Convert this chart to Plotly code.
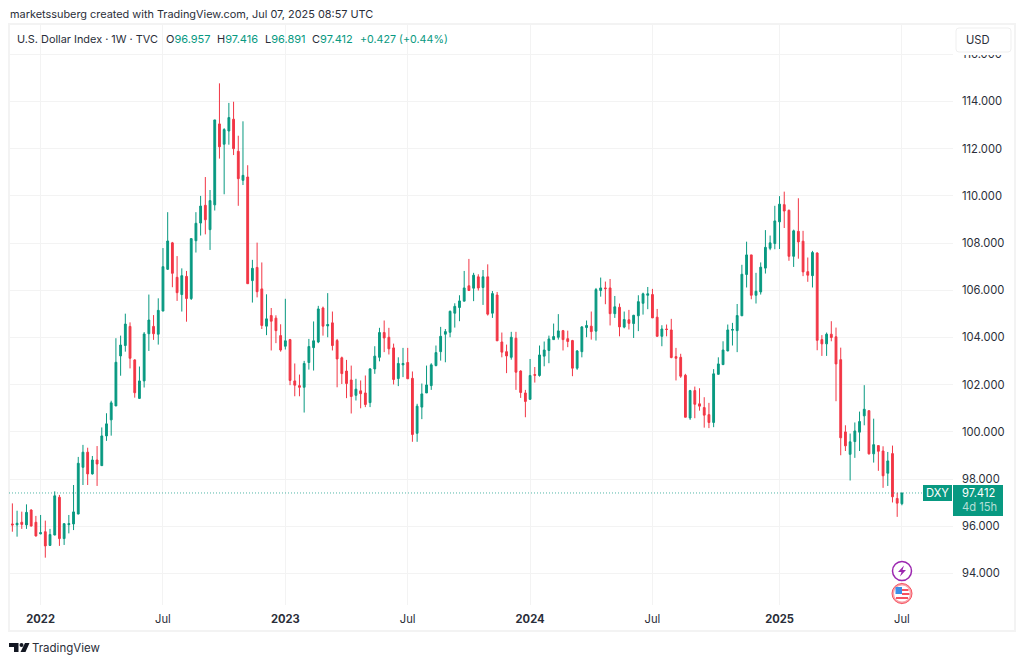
import pandas as pd
import plotly.graph_objects as go

# weekly DXY candles, first one is the week of 2021-11-22
opens = [
    96.10, 96.06, 96.17, 96.06, 96.69, 96.17, 95.68, 95.77, 95.19, 95.63,
    97.23, 95.48, 96.07, 96.10, 96.52, 98.50, 99.14, 98.22, 98.81, 98.57,
    99.83, 100.51, 101.10, 103.22, 103.66, 104.47, 103.05, 101.42, 102.16, 104.16,
    104.47, 104.14, 105.12, 106.89, 108.01, 106.55, 105.82, 106.59, 105.65, 108.10,
    108.85, 109.60, 108.57, 109.62, 113.05, 112.19, 112.75, 113.25, 111.89, 110.66,
    110.80, 106.41, 106.97, 106.06, 104.48, 104.93, 104.82, 104.08, 103.63, 103.91,
    102.16, 101.96, 101.89, 102.94, 103.57, 103.81, 105.25, 104.49, 104.62, 103.87,
    103.14, 102.58, 102.20, 101.55, 101.74, 101.65, 101.24, 102.67, 103.16, 104.21,
    104.01, 103.56, 102.26, 102.84, 102.94, 102.27, 99.94, 101.05, 101.65, 101.96,
    102.81, 103.40, 104.14, 104.22, 105.03, 105.27, 105.54, 106.19, 106.09, 106.57,
    106.12, 106.57, 105.03, 105.80, 103.81, 103.40, 103.16, 103.97, 102.58, 101.65,
    101.38, 102.43, 102.39, 103.21, 103.45, 103.91, 104.01, 104.29, 103.95, 103.87,
    102.70, 103.40, 104.42, 104.48, 104.27, 105.99, 106.10, 106.10, 105.01, 105.28,
    104.44, 104.75, 104.59, 104.92, 105.45, 105.79, 105.82, 104.86, 104.05, 104.36,
    104.32, 103.19, 103.16, 102.40, 100.59, 101.75, 101.19, 101.03, 100.73, 100.40,
    102.44, 102.85, 103.43, 104.31, 104.29, 104.92, 106.67, 107.50, 105.79, 105.93,
    106.94, 107.78, 107.98, 108.90, 109.63, 109.39, 107.44, 108.50, 108.08, 106.79,
    106.62, 107.58, 103.91, 103.73, 104.14, 104.03, 103.06, 100.00, 99.05, 99.59,
    99.99, 100.68, 100.90, 99.07, 99.42, 99.19, 98.25, 99.08, 97.18, 96.957,
]
highs = [
    96.97, 96.66, 96.62, 96.93, 96.72, 96.44, 96.48, 96.24, 95.89, 97.48,
    97.33, 96.13, 96.48, 97.75, 98.94, 99.45, 99.33, 98.98, 99.40, 100.19,
    100.79, 101.32, 103.97, 104.08, 105.01, 104.64, 103.08, 102.77, 104.23, 105.82,
    104.95, 105.66, 107.79, 109.31, 108.05, 107.45, 106.93, 106.82, 108.19, 109.31,
    110.00, 110.80, 110.25, 113.22, 114.77, 112.87, 113.94, 113.99, 112.55, 113.16,
    111.30, 107.29, 108.02, 107.18, 105.83, 105.25, 104.94, 104.56, 105.64, 103.94,
    102.90, 102.43, 103.01, 103.94, 104.68, 105.34, 105.31, 105.88, 105.10, 103.94,
    103.19, 103.05, 102.81, 102.25, 102.18, 102.39, 102.70, 103.63, 104.41, 104.72,
    104.41, 103.74, 103.16, 103.56, 103.56, 102.56, 101.19, 102.05, 102.81, 102.91,
    103.66, 104.45, 104.36, 105.14, 105.45, 105.79, 106.82, 107.33, 106.74, 106.68,
    106.86, 107.10, 105.97, 105.93, 104.21, 103.70, 104.24, 104.24, 102.61, 101.78,
    103.09, 102.75, 103.66, 103.83, 104.08, 104.59, 104.99, 104.32, 104.29, 103.90,
    103.47, 104.48, 104.72, 105.10, 106.10, 106.54, 106.37, 106.48, 105.76, 105.44,
    105.10, 105.17, 104.96, 105.79, 105.90, 106.14, 106.06, 105.21, 104.52, 104.55,
    104.79, 103.56, 103.31, 102.46, 101.78, 101.92, 101.85, 101.47, 101.23, 102.66,
    103.16, 103.84, 104.55, 104.62, 105.42, 107.08, 108.06, 107.50, 106.74, 107.18,
    108.55, 108.32, 109.58, 109.99, 110.18, 109.42, 108.57, 109.90, 108.52, 107.39,
    107.67, 107.61, 104.10, 104.21, 104.69, 104.42, 103.57, 100.28, 99.93, 100.40,
    100.86, 101.98, 100.90, 100.56, 99.42, 99.39, 99.15, 99.42, 97.42, 97.416,
]
lows = [
    95.77, 95.56, 95.89, 95.89, 95.99, 95.57, 95.66, 94.67, 95.17, 95.62,
    95.17, 95.21, 95.70, 95.84, 96.51, 97.75, 97.75, 98.19, 97.71, 98.57,
    99.62, 99.84, 101.10, 102.38, 103.40, 102.69, 101.45, 101.40, 101.88, 103.43,
    103.90, 103.70, 105.12, 106.86, 106.13, 105.55, 105.10, 104.67, 105.59, 107.60,
    108.32, 108.37, 107.71, 109.38, 111.58, 110.07, 112.17, 111.73, 109.58, 110.46,
    106.28, 105.48, 105.70, 104.36, 104.10, 103.45, 103.76, 103.40, 103.49, 101.98,
    101.51, 101.51, 100.82, 102.64, 102.60, 103.76, 104.08, 104.01, 103.45, 101.89,
    102.03, 101.43, 100.78, 101.33, 101.00, 101.05, 101.05, 102.46, 102.99, 103.38,
    103.28, 102.01, 101.94, 102.32, 102.25, 99.58, 99.58, 100.54, 101.65, 101.78,
    102.78, 103.02, 102.95, 104.01, 104.42, 104.69, 105.54, 105.99, 105.54, 105.99,
    105.38, 104.93, 104.83, 103.86, 103.16, 102.49, 103.06, 101.78, 101.44, 100.62,
    101.37, 102.09, 102.34, 102.78, 102.91, 103.91, 103.91, 103.45, 103.59, 102.36,
    102.63, 103.16, 104.01, 103.91, 103.87, 105.73, 105.41, 104.51, 104.83, 104.05,
    104.39, 104.34, 103.98, 104.27, 104.97, 105.20, 104.83, 104.04, 103.63, 104.05,
    103.12, 102.18, 102.29, 100.62, 100.51, 100.58, 100.90, 100.18, 100.16, 100.20,
    102.43, 102.85, 103.42, 103.66, 103.38, 104.92, 106.12, 105.62, 105.44, 105.82,
    106.71, 107.70, 107.74, 107.75, 108.64, 107.25, 106.99, 107.34, 106.60, 106.36,
    106.12, 103.46, 103.22, 103.22, 103.84, 101.30, 99.01, 99.19, 97.94, 98.90,
    99.19, 100.28, 99.04, 98.70, 98.35, 97.63, 97.71, 97.01, 96.40, 96.891,
]
closes = [
    96.06, 96.13, 96.08, 96.59, 96.01, 95.59, 95.73, 95.17, 95.65, 97.29,
    95.48, 96.11, 96.11, 96.61, 98.67, 99.14, 98.22, 98.81, 98.64, 99.83,
    100.34, 101.23, 102.95, 103.68, 104.57, 103.12, 101.66, 102.16, 104.15, 104.74,
    104.16, 105.15, 107.00, 108.09, 106.72, 105.90, 106.62, 105.65, 108.19, 108.84,
    109.57, 108.99, 109.80, 113.22, 112.08, 112.81, 113.32, 112.00, 110.73, 110.87,
    106.28, 106.93, 105.94, 104.51, 104.79, 104.69, 104.29, 103.47, 103.86, 102.18,
    101.98, 101.89, 102.90, 103.62, 103.86, 105.21, 104.48, 104.55, 103.66, 103.09,
    102.47, 102.05, 101.50, 101.81, 101.62, 101.16, 102.67, 103.21, 104.21, 103.98,
    103.52, 102.22, 102.90, 102.90, 102.25, 99.89, 101.09, 101.61, 101.99, 102.84,
    103.36, 104.05, 104.25, 105.11, 105.32, 105.55, 106.10, 105.99, 106.64, 106.10,
    106.57, 104.99, 105.86, 103.86, 103.38, 103.22, 104.01, 102.53, 101.67, 101.29,
    102.39, 102.40, 103.26, 103.47, 103.94, 104.04, 104.28, 103.91, 103.83, 102.70,
    103.43, 104.45, 104.51, 104.25, 106.03, 106.10, 106.07, 105.01, 105.30, 104.45,
    104.76, 104.60, 104.94, 105.52, 105.85, 105.85, 104.83, 104.05, 104.36, 104.34,
    103.15, 103.12, 102.36, 100.62, 101.75, 101.17, 101.09, 100.71, 100.40, 102.46,
    102.88, 103.47, 104.32, 104.34, 104.93, 106.68, 107.50, 105.79, 105.96, 106.98,
    107.82, 108.01, 108.94, 109.65, 109.36, 107.44, 108.52, 108.05, 106.78, 106.64,
    107.60, 103.88, 103.73, 104.14, 104.00, 102.88, 99.75, 99.41, 99.58, 100.04,
    100.44, 100.96, 99.07, 99.46, 99.18, 98.14, 98.77, 97.25, 96.98, 97.412,
]
dates = pd.date_range("2021-11-22", periods=len(opens), freq="W-MON")

x_tick_dates = ["2022-01-03", "2022-07-04", "2023-01-02", "2023-07-03",
                "2024-01-01", "2024-07-01", "2025-01-06", "2025-07-07"]
x_tick_labels = ["<b>2022</b>", "Jul", "<b>2023</b>", "Jul", "<b>2024</b>", "Jul", "<b>2025</b>", "Jul"]
y_ticks = [94, 96, 98, 100, 102, 104, 106, 108, 110, 112, 114, 116]

GREEN = "#089981"
RED = "#F23645"
TEXT = "#2a2e39"
FONT = "Inter, Liberation Sans, sans-serif"

# plot box in page pixels
L, R, T, B = 9, 953, 24, 605


def px(x):
    return (x - L) / (R - L)


def py(y):
    return 1 - (y - T) / (B - T)


def rect(x0, y0, x1, y1, fill, line=None, width=0):
    return dict(type="rect", xref="paper", yref="paper", layer="above",
                x0=px(x0), x1=px(x1), y0=py(y0), y1=py(y1), fillcolor=fill,
                line=dict(color=line or fill, width=width))


def circle(cx, cy, r, fill, line, width):
    return dict(type="circle", xref="paper", yref="paper", layer="above",
                x0=px(cx - r), x1=px(cx + r), y0=py(cy - r), y1=py(cy + r),
                fillcolor=fill, line=dict(color=line, width=width))


def poly(points, fill):
    path = "M " + " L ".join(f"{px(a)} {py(b)}" for a, b in points) + " Z"
    return dict(type="path", xref="paper", yref="paper", layer="above", path=path,
                fillcolor=fill, line=dict(width=0))


def label(x, y, text, color=TEXT, size=11, anchor="left"):
    return dict(xref="paper", yref="paper", x=px(x), y=py(y), text=text, showarrow=False,
                xanchor=anchor, yanchor="middle", align="left", borderpad=0,
                font=dict(family=FONT, size=size, color=color))


fig = go.Figure(go.Candlestick(
    x=dates, open=opens, high=highs, low=lows, close=closes,
    increasing=dict(line=dict(color=GREEN, width=1), fillcolor=GREEN),
    decreasing=dict(line=dict(color=RED, width=1), fillcolor=RED),
    whiskerwidth=0,
    showlegend=False,
))

shapes = [
    # last price line
    dict(type="line", xref="paper", yref="y", x0=0, x1=px(923), y0=closes[-1], y1=closes[-1],
         line=dict(color="rgba(8,153,129,0.7)", width=1, dash="1px,2px"), layer="above"),
    # frame around the chart
    dict(type="rect", xref="paper", yref="paper", x0=px(9), x1=px(1015), y0=py(24), y1=py(631),
         line=dict(color="#f3f3f3", width=2), layer="below"),
    # price tags
    rect(923, 485, 952, 501, GREEN),
    rect(953, 485, 1003, 516, GREEN),
    # USD button, with the white patch that hides most of the 116 label
    rect(956, 50, 1011, 55, "white"),
    dict(type="path", xref="paper", yref="paper", layer="above",
         path=" ".join([
             f"M {px(959)} {py(28)} L {px(1008)} {py(28)}",
             f"Q {px(1011)} {py(28)} {px(1011)} {py(31)} L {px(1011)} {py(49)}",
             f"Q {px(1011)} {py(52)} {px(1008)} {py(52)} L {px(959)} {py(52)}",
             f"Q {px(956)} {py(52)} {px(956)} {py(49)} L {px(956)} {py(31)}",
             f"Q {px(956)} {py(28)} {px(959)} {py(28)} Z",
         ]),
         fillcolor="white", line=dict(color="#efefef", width=1)),
    # event icons
    circle(902, 571, 9.5, "white", "#9c27b0", 1.5),
    poly([(904, 565.5), (898, 572), (901.5, 572), (900, 576.5), (906, 570), (902.5, 570)], "#9c27b0"),
    circle(902, 593.5, 10, "#f7a4ab", "#f7525f", 1),
    circle(902, 593.5, 8, "white", "white", 0),
    rect(902, 589, 908.5, 591, "#f7525f"),
    rect(902, 593, 909.5, 595, "#f7525f"),
    rect(896, 597, 908, 599, "#f7525f"),
    rect(895.5, 587, 902, 594, "#3d8fe8"),
    # TradingView logo
    poly([(9, 643), (18.5, 643), (18.5, 652), (14, 652), (14, 647), (9, 647)], "#131722"),
    circle(21.5, 645, 2, "#131722", "#131722", 0),
    poly([(25, 643), (29.5, 643), (25.5, 652), (20.5, 652)], "#131722"),
]

annotations = [
    label(9, 14, "marketssuberg created with TradingView.com, Jul 07, 2025 08:57 UTC", size=10.9),
    label(16, 39, "U.S. Dollar Index · 1W · TVC", size=10.9),
    label(165, 39, f'O<span style="color:{GREEN}">96.957</span>'),
    label(215.5, 39, f'H<span style="color:{GREEN}">97.416</span>'),
    label(263.5, 39, f'L<span style="color:{GREEN}">96.891</span>'),
    label(311, 39, f'C<span style="color:{GREEN}">97.412</span>'),
    label(358.5, 39, "+0.427 (+0.44%)", color=GREEN, size=10.7),
    label(937.5, 493, "DXY", color="white", anchor="center", size=11.2),
    label(961, 493, "97.412", color="white", size=11.2),
    label(961, 506.5, "4d 15h", color="rgba(255,255,255,0.7)", size=11.2),
    label(965, 40, "USD", size=11.2),
    label(31, 648, "TradingView", size=11.5),
]

fig.update_layout(
    width=1024, height=663,
    margin=dict(l=L, r=1024 - R, t=T, b=663 - B, pad=0),
    paper_bgcolor="white", plot_bgcolor="white",
    font=dict(family=FONT, size=11.2, color=TEXT),
    boxgap=0.45,
    shapes=shapes, annotations=annotations,
    xaxis=dict(
        type="date", range=["2021-11-17", "2025-09-21"], rangeslider=dict(visible=False),
        tickmode="array", tickvals=x_tick_dates, ticktext=x_tick_labels,
        showgrid=True, gridcolor="#f3f3f3", gridwidth=1, zeroline=False, showline=False,
        ticks="", ticklabelstandoff=6, tickfont=dict(size=11.2, color=TEXT),
    ),
    yaxis=dict(
        side="right", range=[92.665, 117.284], tickmode="array", tickvals=y_ticks,
        tickformat=".3f", showgrid=True, gridcolor="#f3f3f3", gridwidth=1,
        zeroline=False, showline=False, ticks="", ticklabelstandoff=8,
        tickfont=dict(size=11.2, color=TEXT),
    ),
)

fig.write_html("out.html", post_script="document.body.style.margin = '0';",
               config=dict(displayModeBar=False))
